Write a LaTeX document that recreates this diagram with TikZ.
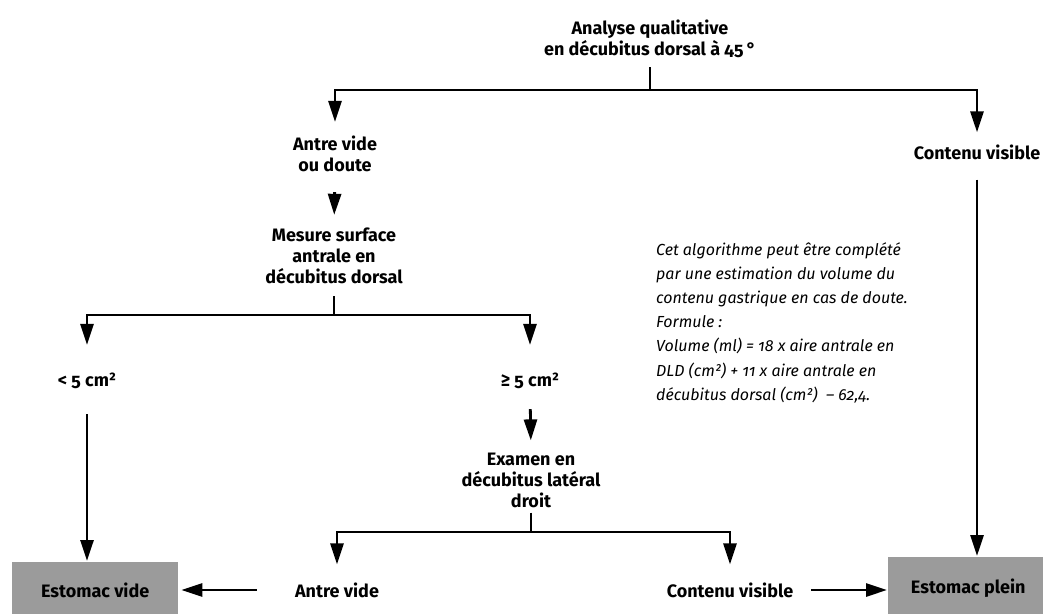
\documentclass[tikz,border=0pt]{standalone}
\usepackage{fontspec}
\setmainfont{Fira Sans}[Numbers=OldStyle]
\usetikzlibrary{arrows.meta,calc}
\definecolor{boxgray}{RGB}{155,155,155}
\begin{document}
\begin{tikzpicture}[x=1pt,y=-1pt,
  lbl/.style={font=\bfseries\fontsize{18}{21}\selectfont, align=center, inner sep=0pt},
  note/.style={font=\itshape\fontsize{16}{24.2}\selectfont, align=left, inner sep=0pt},
  result/.style={fill=boxgray, font=\bfseries\fontsize{18}{21}\selectfont, inner sep=0pt},
  ln/.style={line width=2.8pt},
  arr/.style={line width=2.8pt, -{Triangle[width=13pt,length=21pt]}}]
\useasboundingbox (0,0) rectangle (1043,613);

% decision texts
\node[lbl] (title) at (650,39) {Analyse qualitative\\en décubitus dorsal à 45\,°};
\node[lbl] (av1) at (335,154) {Antre vide\\ou doute};
\node[lbl] (cv1) at (977,152) {Contenu visible};
\node[lbl] (mes) at (334,256) {Mesure surface\\antrale en\\décubitus dorsal};
\node[lbl] (lt) at (87,381) {< 5 cm²};
\node[lbl] (ge) at (530,381) {≥ 5 cm²};
\node[lbl] (exam) at (531,480) {Examen en\\décubitus latéral\\droit};
\node[lbl] (av2) at (337,590) {Antre vide};
\node[lbl] (cv2) at (730,590) {Contenu visible};

% outcomes
\node[result, anchor=north west, minimum width=166pt, minimum height=56pt] (ev) at (12,562) {Estomac vide};
\node[result, anchor=north west, minimum width=160pt, minimum height=62pt] (ep) at (888,557) {Estomac plein};

% remark on volume estimation
\node[note, anchor=north west] (rem) at (656,242) {Cet algorithme peut être complété\\
par une estimation du volume du\\
contenu gastrique en cas de doute.\\
Formule :\\
Volume (ml) = 18 x aire antrale en\\
DLD (cm²) + 11 x aire antrale en\\
décubitus dorsal (cm²)~ – 62,4.};

% junctions
\coordinate (j1) at (650,90);
\coordinate (j2) at (334,315);
\coordinate (j3) at (531,532);

% first split
\draw[ln, shorten <=9pt] (title.south) -- (j1);
\draw[arr, shorten >=14pt] (j1) -| (av1.north);
\draw[arr, shorten >=12pt] (j1) -| (cv1.north);
\draw[arr, shorten <=20pt, shorten >=13pt] (av1.south) -- (mes.north);

% second split
\draw[ln, shorten <=12pt] (mes.south) -- (j2);
\draw[arr, shorten >=28pt] (j2) -| (lt.north);
\draw[arr, shorten >=28pt] (j2) -| (ge.north);
\draw[arr, shorten <=25pt, shorten >=1pt] (lt.south) -- (lt.south |- ev.north);
\draw[arr, shorten <=20pt, shorten >=12pt] (ge.south) -- (exam.north);

% third split
\draw[ln, shorten <=5pt] (exam.south) -- (j3);
\draw[arr, shorten >=18pt] (j3) -| (av2.north);
\draw[arr, shorten >=18pt] (j3) -| (cv2.north);

% to outcomes
\draw[arr, shorten <=20pt, shorten >=1pt] (cv1.south) -- (cv1.south |- ep.north);
\draw[arr, shorten <=38pt, shorten >=3pt] (av2.west) -- (ev.east |- av2.west);
\draw[arr, shorten <=18pt, shorten >=1pt] (cv2.east) -- (ep.west |- cv2.east);
\end{tikzpicture}
\end{document}
